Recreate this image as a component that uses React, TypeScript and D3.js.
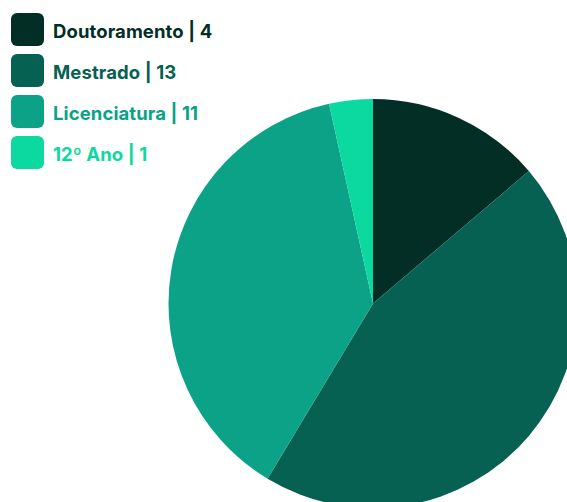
import React from "react";
import * as d3 from "d3";

const categories = ["Doutoramento", "Mestrado", "Licenciatura", "12º Ano"];
const values = [4, 13, 11, 1];
const colors = ["#032e26", "#066152", "#0ba287", "#0bd9a0"];

export default function App() {
  const width = 567;
  const height = 502;
  const cx = 373;
  const cy = 303.5;
  const r = 204.5;
  const pie = d3.pie<number>().sort(null).value((d) => d);
  const arcs = pie(values);
  const arc = d3.arc<d3.PieArcDatum<number>>().innerRadius(0).outerRadius(r);
  return (
    <svg
      width={width}
      height={height}
      style={{ position: "fixed", left: 0, top: 0 }}
    >
      <rect width={width} height={height} fill="#fff" />
      <g transform={`translate(${cx},${cy})`}>
        {arcs.map((a, i) => (
          <path key={i} d={arc(a) || ""} fill={colors[i]} />
        ))}
      </g>
      {categories.map((c, i) => (
        <g key={c} transform={`translate(11,${13 + i * 41})`}>
          <rect width={33} height={33} rx={6} fill={colors[i]} />
          <text
            x={42}
            y={25.3}
            fill={colors[i]}
            style={{ fontFamily: "Inter", fontWeight: 700, fontSize: 18.5, letterSpacing: 0.1 }}
          >
            {c} | {values[i]}
          </text>
        </g>
      ))}
    </svg>
  );
}
